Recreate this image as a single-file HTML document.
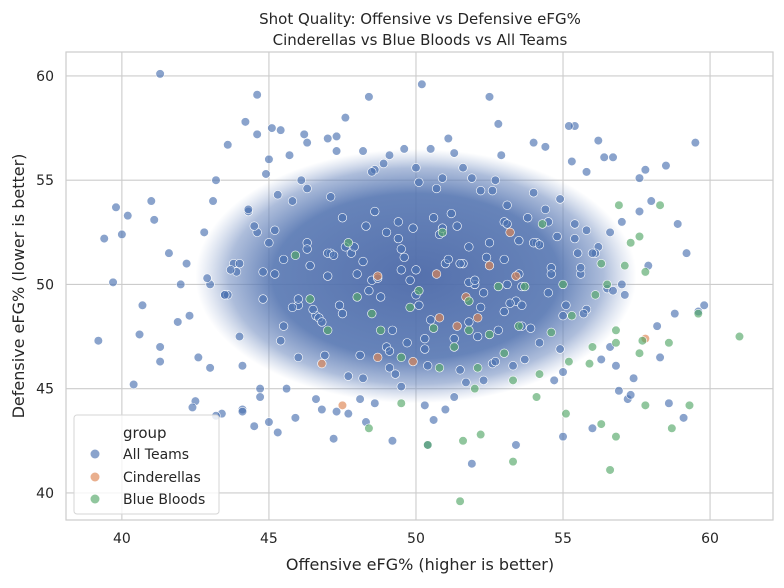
<!DOCTYPE html>
<html><head><meta charset="utf-8">
<style>
body{margin:0;background:#fff;font-family:"Liberation Sans","DejaVu Sans",sans-serif;}
svg text{font-family:"DejaVu Sans","Liberation Sans",sans-serif;fill:#262626;}
</style></head>
<body>
<svg id="chart" width="784" height="583" viewBox="0 0 784 583">
<defs>
<radialGradient id="core" cx="50%" cy="50%" r="50%">
<stop offset="0%" stop-color="#4c69a8" stop-opacity="0.95"/>
<stop offset="65%" stop-color="#5273b0" stop-opacity="0.88"/>
<stop offset="85%" stop-color="#6a87bd" stop-opacity="0.55"/>
<stop offset="100%" stop-color="#8aa1cc" stop-opacity="0"/>
</radialGradient>
<clipPath id="plotclip"><rect x="66" y="52" width="707" height="468"/></clipPath>
</defs>
<rect x="66" y="52" width="707" height="468" fill="#fff" stroke="#cccccc" stroke-width="1.2"/>
<g id="grid"></g>
<g id="density" clip-path="url(#plotclip)"></g>
<g id="marks" clip-path="url(#plotclip)"></g>
<g id="ticks"></g>
<text x="420" y="24" text-anchor="middle" font-size="15">Shot Quality: Offensive vs Defensive eFG%</text>
<text x="420" y="45" text-anchor="middle" font-size="15">Cinderellas vs Blue Bloods vs All Teams</text>
<text x="420" y="570" text-anchor="middle" font-size="16">Offensive eFG% (higher is better)</text>
<text transform="translate(24,286) rotate(-90)" text-anchor="middle" font-size="16">Defensive eFG% (lower is better)</text>
<g>
<rect x="74" y="415" width="145" height="99" rx="3" fill="#fff" fill-opacity="0.8" stroke="#d6d6d6"/>
<text x="123" y="438" font-size="15">group</text>
<circle cx="95" cy="454" r="4.5" fill="#4c72b0" fill-opacity="0.65"/>
<text x="123" y="459" font-size="14">All Teams</text>
<circle cx="95" cy="477" r="4.5" fill="#dd8452" fill-opacity="0.65"/>
<text x="123" y="482" font-size="14">Cinderellas</text>
<circle cx="95" cy="499" r="4.5" fill="#55a868" fill-opacity="0.65"/>
<text x="123" y="504" font-size="14">Blue Bloods</text>
</g>
</svg>
<script>
const xTicks=[40,45,50,55,60];
const yTicks=[40,45,50,55,60];
const allX=[41.3,39.2,39.4,39.7,39.8,40,40.2,41,40.7,40.6,41.3,41.3,41.6,42.5,43.4,44.2,44.6,44.5,45.3,47.2,51.9,50.2,48.4,52.5,55.4,59.5,58.5,59.8,59.6,57.6,58,59.2,58.8,58.3,57.2,56,55,53.4,50.4,49.2,
42,42.3,42.8,43,43.2,43.5,43.8,44,44.3,44.7,45,45.2,45.5,45.8,46,46.3,46.6,47,47.4,47.8,48.2,48.6,49,49.4,49.8,50.5,51,51.4,51.8,52.2,52.6,53,53.4,53.8,54.2,54.6,55,55.4,55.8,56.2,56.6,57,57.4,57.8,58.2,
42.2,42.6,43.1,43.6,44.1,44.6,45.1,45.6,46.1,46.6,47.1,47.6,48.1,48.6,49.1,49.6,50.1,50.6,51.1,51.6,52.1,52.6,53.1,53.6,54.1,54.6,55.1,55.6,56.1,56.6,57.1,57.6,
43,44,45,46,47,48,49,50,51,52,53,54,55,56,57,43.5,44.5,45.5,46.5,47.5,48.5,49.5,50.5,51.5,52.5,53.5,54.5,55.5,56.5,
45.2,46.4,47.6,48.8,50,51.2,52.4,53.6,54.8,45.8,47,48.2,49.4,50.6,51.8,53,54.2,55.4,44.8,46,47.2,48.4,49.6,50.8,52,53.2,54.4,55.6,
46.3,47.5,48.7,49.9,51.1,52.3,53.5,47.1,48.3,49.5,50.7,51.9,53.1,46.7,47.9,49.1,50.3,51.5,52.7,53.9,
44.1,45.4,46.8,48.1,49.2,50.3,51.6,52.9,54,55.3,56.4,44.9,46.2,47.3,48.9,50.1,51.3,52.8,54.4,55.8,56.9,
47.7,49.7,51.7,53.7,45.7,43.9,56.7,57.9,58.9,42.9,41.9,41.1,40.4,57.3,58.6,59.1,56.3,54.9,53.3,52.3,51.3,50.3,49.3,48.3,47.3,46.3,45.3,44.3,48.5,50.9,52.8,46.9,54.7,44.7,42.4,
43.2,44.1,45.0,45.9,46.8,47.7,48.6,49.5,50.4,51.3,52.2,53.1,54.0,54.9,55.8,56.7,43.6,44.6,55.2,56.2,
45.4,46.3,47.3,48.2,49.1,50.0,50.9,51.8,52.7,53.6,54.5,44.8,43.7,55.7,56.8,57.5,42.7,42.1,44.3,57.1];
const allY=[60.1,47.3,52.2,50.1,53.7,52.4,53.3,54,49,47.6,46.3,47,51.5,44.4,43.8,57.8,59.1,43.2,42.9,42.6,41.4,59.6,59,59,57.6,56.8,55.7,49,48.7,55.1,54,51.5,48.6,46.5,44.5,43.1,42.7,42.3,42.3,42.5,
50,48.5,52.5,46,55,49.5,51,47.5,53.5,45,56,50.5,48,54,46.5,52,44.5,57,49,51.5,45.5,55.5,47,53,50.2,56.5,44,52.8,48.2,54.5,46.2,51.2,49.2,53.2,47.2,50.8,45.8,52.2,48.8,51.8,
47,53,45.5,55.5,48,51,46.5,54,49.5,44,52.5,57.5,45,55,48.5,51.5,58,44.5,53.5,46,56.5,49,43.5,57,51,47.5,54.5,50,48,52,50.5,49,
50.5,51.5,52.5,49.5,53.5,50,51,52,49,51.5,50.5,52.5,49.5,51,50,53,52,48.5,51.5,50,49.5,52.8,51.2,48.8,53.2,50.2,51.7,48.3,
51,52,50.5,53,51.5,49.8,52.6,50.9,51.8,49.4,50.7,53.4,51.3,49.9,52.3,48.9,50.4,51.1,52.2,53.2,50.1,48.7,51.9,52.9,50.6,49.3,51.4,49.7,
51.3,52.4,50.2,49.1,53.6,50.8,51.7,48.6,50.3,52.7,51.2,49.6,52.1,54.2,52.8,50.7,54.6,55.1,53.8,48.4,51.8,
46.8,47.4,45.9,46.3,47.9,46.1,47.3,48.2,46.6,47.8,46.9,55.6,56.2,56.8,55.9,56.1,55.3,57.2,56.4,55.8,54.9,
56.3,57.7,56.6,55.4,44.9,45.6,47.2,45.3,46.4,56.2,50.6,49.7,50.9,52.9,50.3,48.2,53.1,45.2,44.7,44.3,43.6,46.4,46.9,46.1,45.4,44.6,44.2,45.7,43.4,43.9,54.6,54.3,53.6,55.4,52.7,
47.8,46.6,45.4,44.6,44.1,43.7,43.9,43.4,43.6,44.0,43.8,44.3,45.1,46.1,47.4,48.9,52.9,54.4,54.1,52.6,
56.1,56.7,57.2,57.6,56.9,57.4,56.8,57.1,56.4,56.2,55.6,55.1,51.8,55.0,49.0,49.6,49.3,50.7,48.6,46.1];
const cinX=[47.5,46.8,48.7,49.9,48.7,50.7,51.4,51.7,52.1,52.5,53.2,53.4,57.8,50.8];
const cinY=[44.2,46.2,46.5,46.3,50.4,50.5,48,49.4,48.4,50.9,52.5,50.4,47.4,48.4];
const bbX=[61,59.3,58.7,57.8,56.8,56.6,56.3,55.1,54.1,53.3,51.5,50.4,51.6,52.2,48.4,49.5,52,53.3,54.2,55.2,56,56.8,57.6,58.6,59.6,57.8,57.3,57.6,58.3,56.9,56.3,56.1,55.3,54.6,53.5,53,52.5,51.8,51.3,50.6,49.8,48.8,48,46.4,45.9,47,48.5,49.5,50.8,52.1,51.8,52.8,55,53.7,47.7,50.9,56.5,57.1,54.3,56.8,50.1,55.9,57.7];
const bbY=[47.5,44.2,43.1,44.2,42.7,41.1,43.3,43.8,44.6,41.5,39.6,42.3,42.5,42.8,43.1,44.3,45,45.4,45.7,46.3,47,47.2,46.7,47.2,48.6,50.6,52,52.3,53.8,53.8,51,49.5,48.5,47.7,48,46.7,47.6,47.8,47,47.9,48.9,47.8,49.4,49.3,51.4,47.8,48.6,46.5,46,46,49.2,49.9,50,49.9,52,52.5,50,50.9,52.9,47.8,49.7,46.2,47.3];
const X0=38.1,X1=62.14,Y0=38.7,Y1=61.15,L=66,R=773,T=52,B=520;
function sx(v){return L+(v-X0)/(X1-X0)*(R-L);}
function sy(v){return B-(v-Y0)/(Y1-Y0)*(B-T);}
const NS='http://www.w3.org/2000/svg';
const grid=document.getElementById('grid'),ticks=document.getElementById('ticks'),marks=document.getElementById('marks'),dens=document.getElementById('density');
xTicks.forEach(t=>{
 const l=document.createElementNS(NS,'line');
 l.setAttribute('x1',sx(t));l.setAttribute('x2',sx(t));l.setAttribute('y1',T);l.setAttribute('y2',B);
 l.setAttribute('stroke','#cccccc');l.setAttribute('stroke-width','1.1');
 
 
 grid.appendChild(l);
 const tx=document.createElementNS(NS,'text');
 tx.setAttribute('x',sx(t));tx.setAttribute('y',B+23);tx.setAttribute('text-anchor','middle');tx.setAttribute('font-size','14');
 tx.textContent=t;
 
 
 ticks.appendChild(tx);
});
yTicks.forEach(t=>{
 const l=document.createElementNS(NS,'line');
 l.setAttribute('y1',sy(t));l.setAttribute('y2',sy(t));l.setAttribute('x1',L);l.setAttribute('x2',R);
 l.setAttribute('stroke','#cccccc');l.setAttribute('stroke-width','1.1');
 
 
 grid.appendChild(l);
 const tx=document.createElementNS(NS,'text');
 tx.setAttribute('x',L-12);tx.setAttribute('y',sy(t)+5);tx.setAttribute('text-anchor','end');tx.setAttribute('font-size','14');
 tx.textContent=t;
 
 
 ticks.appendChild(tx);
});
const e=document.createElementNS(NS,'ellipse');
e.setAttribute('cx',sx(50));e.setAttribute('cy',sy(50.4));e.setAttribute('rx',(sx(57.5)-sx(50)));e.setAttribute('ry',(sy(44.3)-sy(50.4)));
e.setAttribute('fill','url(#core)');


dens.appendChild(e);
function draw(xs,ys,color,name){
 const n=Math.min(xs.length,ys.length);
 for(let i=0;i<n;i++){
  const c=document.createElementNS(NS,'circle');
  c.setAttribute('cx',sx(xs[i]));c.setAttribute('cy',sy(ys[i]));c.setAttribute('r','4.3');
  c.setAttribute('fill',color);c.setAttribute('fill-opacity','0.65');
  c.setAttribute('stroke','#fff');c.setAttribute('stroke-width','0.6');
  
  
  marks.appendChild(c);
 }
}
draw(allX,allY,'#4c72b0','point-all-teams');
draw(cinX,cinY,'#dd8452','point-cinderella');
draw(bbX,bbY,'#55a868','point-blue-blood');
</script>
</body></html>
